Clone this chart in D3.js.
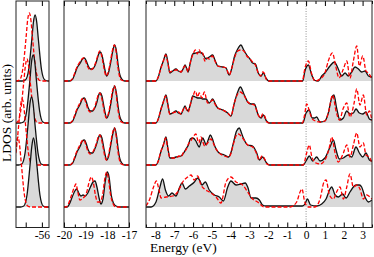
<!DOCTYPE html>
<meta charset="utf-8">
<style>
body{margin:0;background:#fff;}
svg{display:block;}
text{font-family:"Liberation Serif","DejaVu Serif",serif;fill:#000;}
.axis path{display:none;}
.axis line{stroke:#000;stroke-width:1px;}
.axis text{font-size:11.5px;}
.fill{fill:#d9d9d9;stroke:none;}
.black{fill:none;stroke:#111;stroke-width:1.3px;}
.red{fill:none;stroke:#f00;stroke-width:1.3px;stroke-dasharray:4,2;}
</style>
<body>
<script src="https://d3js.org/d3.v7.min.js"></script>
<script>
// energy windows of the three panels
var deepDomain = [-56.8, -55.78],
    midDomain  = [-20, -17],
    valDomain  = [-8.5, 3.5];

// tick values
var deepMajor = [-56],  deepMinor = [-56.5];
var midMajor  = [-20, -19, -18, -17], midMinor = [-19.5, -18.5, -17.5];
var valMajor  = [-8, -7, -6, -5, -4, -3, -2, -1, 0, 1, 2, 3];
var valMinor  = [-8.5, -7.5, -6.5, -5.5, -4.5, -3.5, -2.5, -1.5, -0.5, 0.5, 1.5, 2.5, 3.5];

// deep core level, one array per row: [energy, LDOS]
var deepBlack = [
  [[-57,0],[-56.61,0],[-56.51,1],[-56.41,11],[-56.31,42],[-56.26,59],[-56.21,66],[-56.16,59],[-56.11,42],[-56.01,11],[-55.91,1],[-55.81,0],[-55.5,0]],
  [[-57,0],[-56.67,0],[-56.57,1],[-56.47,12],[-56.37,43],[-56.32,61],[-56.27,68],[-56.22,61],[-56.17,43],[-56.07,12],[-55.97,1],[-55.87,0],[-55.5,0]],
  [[-57,0],[-56.72,0],[-56.62,1],[-56.52,12],[-56.42,43],[-56.37,61],[-56.32,68],[-56.27,61],[-56.22,43],[-56.12,12],[-56.02,1],[-55.92,0],[-55.5,0]],
  [[-57,0],[-56.66,0],[-56.56,1],[-56.46,12],[-56.36,44],[-56.31,61],[-56.26,69],[-56.21,61],[-56.16,44],[-56.06,12],[-55.96,1],[-55.86,0],[-55.5,0]]
];
var deepRed = [
  [[-57,0],[-56.79,0],[-56.69,1],[-56.59,12],[-56.49,43],[-56.44,61],[-56.39,68],[-56.34,61],[-56.29,43],[-56.19,12],[-56.09,1],[-55.99,0],[-55.5,0]],
  [[-57,0],[-56.86,0],[-56.76,1],[-56.66,11],[-56.56,41],[-56.51,57],[-56.46,64],[-56.41,57],[-56.36,41],[-56.26,11],[-56.16,1],[-56.06,0],[-55.5,0]],
  [[-57.1,0],[-57.01,0],[-56.91,1],[-56.81,11],[-56.71,42],[-56.66,59],[-56.61,66],[-56.56,59],[-56.51,42],[-56.41,11],[-56.31,1],[-56.21,0],[-55.5,0]],
  [[-57.2,0],[-57.14,0],[-57.04,1],[-56.94,12],[-56.84,45],[-56.79,62],[-56.74,70],[-56.69,62],[-56.64,45],[-56.54,12],[-56.44,1],[-56.34,0],[-55.5,0]]
];

// semicore states
var midBlack = [
  [[-20,0],[-19.75,0],[-19.6,2],[-19.5,7],[-19.4,13],[-19.25,18],[-19.15,22],[-19.06,23],[-18.97,20],[-18.88,15],[-18.78,12],[-18.68,12],[-18.58,15],[-18.48,21],[-18.4,27],[-18.33,29],[-18.25,26],[-18.17,18],[-18.1,10],[-18.03,5],[-17.95,8],[-17.85,18],[-17.75,30],[-17.66,36],[-17.58,30],[-17.5,16],[-17.42,6],[-17.33,2],[-17.2,0],[-17,0]],
  [[-20,0],[-19.75,0],[-19.6,2],[-19.5,7],[-19.4,13],[-19.25,19],[-19.15,24],[-19.06,25],[-18.97,21],[-18.88,15],[-18.78,12],[-18.68,12],[-18.58,15],[-18.48,21],[-18.4,28],[-18.33,30],[-18.25,27],[-18.17,18],[-18.1,10],[-18.03,5],[-17.95,8],[-17.85,18],[-17.75,31],[-17.66,37],[-17.58,30],[-17.5,16],[-17.42,6],[-17.33,2],[-17.2,0],[-17,0]],
  [[-20,0],[-19.75,0],[-19.6,2],[-19.5,7],[-19.4,13],[-19.25,19],[-19.15,24],[-19.06,25],[-18.97,21],[-18.88,15],[-18.78,12],[-18.68,12],[-18.58,16],[-18.48,22],[-18.4,28],[-18.33,30],[-18.25,27],[-18.17,18],[-18.1,10],[-18.03,5],[-17.95,8],[-17.85,19],[-17.75,31],[-17.66,37],[-17.58,30],[-17.5,16],[-17.42,6],[-17.33,2],[-17.2,0],[-17,0]],
  [[-20,0],[-19.85,0],[-19.75,3],[-19.62,10],[-19.5,16],[-19.41,18],[-19.32,14],[-19.22,11],[-19.12,12],[-19.02,11],[-18.9,14],[-18.78,20],[-18.66,25],[-18.57,26],[-18.48,20],[-18.38,9],[-18.3,3],[-18.2,8],[-18.1,25],[-18.0,35],[-17.92,30],[-17.82,12],[-17.72,4],[-17.6,1],[-17.4,0],[-17,0]]
];
var midRed = [
  [[-20,0],[-19.75,0],[-19.62,2],[-19.52,7],[-19.42,13],[-19.27,19],[-19.17,22],[-19.08,23],[-18.99,19],[-18.9,14],[-18.8,11],[-18.7,12],[-18.6,15],[-18.5,21],[-18.42,27],[-18.35,30],[-18.27,26],[-18.19,17],[-18.12,9],[-18.05,5],[-17.97,8],[-17.87,18],[-17.77,30],[-17.68,36],[-17.6,30],[-17.52,15],[-17.44,5],[-17.35,1],[-17.2,0],[-17,0]],
  [[-20,0],[-19.75,0],[-19.62,2],[-19.52,7],[-19.42,13],[-19.27,20],[-19.17,24],[-19.08,25],[-18.99,20],[-18.9,14],[-18.8,11],[-18.7,12],[-18.6,15],[-18.5,22],[-18.42,28],[-18.35,30],[-18.27,26],[-18.19,17],[-18.12,9],[-18.05,5],[-17.97,8],[-17.87,18],[-17.77,31],[-17.68,37],[-17.6,30],[-17.52,15],[-17.44,5],[-17.35,1],[-17.2,0],[-17,0]],
  [[-20,0],[-19.75,0],[-19.62,2],[-19.52,7],[-19.42,13],[-19.27,20],[-19.17,24],[-19.08,25],[-18.99,20],[-18.9,14],[-18.8,11],[-18.7,12],[-18.6,16],[-18.5,22],[-18.42,28],[-18.35,30],[-18.27,26],[-18.19,17],[-18.12,9],[-18.05,5],[-17.97,8],[-17.87,19],[-17.77,31],[-17.68,37],[-17.6,30],[-17.52,15],[-17.44,5],[-17.35,1],[-17.2,0],[-17,0]],
  [[-20,0],[-19.9,0],[-19.8,3],[-19.65,12],[-19.52,20],[-19.45,23],[-19.37,16],[-19.27,7],[-19.17,8],[-19.07,10],[-18.95,15],[-18.85,24],[-18.74,30],[-18.65,25],[-18.55,12],[-18.45,5],[-18.35,5],[-18.22,12],[-18.12,28],[-18.03,35],[-17.95,28],[-17.85,12],[-17.75,4],[-17.6,0],[-17,0]]
];

// valence and conduction band region
var valBlack = [
  [[-8.5,0],[-7.97,0],[-7.83,5],[-7.7,14],[-7.58,20],[-7.44,27],[-7.33,18],[-7.23,8],[-7.08,10],[-6.91,12],[-6.78,10],[-6.64,9],[-6.53,12],[-6.43,16],[-6.35,13],[-6.27,9],[-6.15,18],[-6.02,27],[-5.85,28],[-5.67,29],[-5.49,27],[-5.31,22],[-5.14,24],[-4.96,26],[-4.84,21],[-4.69,15],[-4.43,14],[-4.25,13],[-4.08,6],[-3.93,14],[-3.81,24],[-3.63,32],[-3.46,36],[-3.31,31],[-3.15,26],[-2.98,22],[-2.84,18],[-2.69,17],[-2.54,8],[-2.39,5],[-2.27,8],[-2.13,3],[-1.99,0],[-0.18,0],[-0.06,10],[0.12,16],[0.3,6],[0.47,0.5],[0.65,0],[0.83,5],[1.0,8],[1.27,15],[1.5,19],[1.71,12],[1.89,5],[2.07,8],[2.24,5],[2.42,9],[2.6,14],[2.78,12],[2.95,9],[3.13,10],[3.31,5],[3.5,4]],
  [[-8.5,0],[-7.97,0],[-7.83,5],[-7.7,14],[-7.58,21],[-7.44,28],[-7.33,18],[-7.23,9],[-7.08,10],[-6.91,12],[-6.78,10],[-6.64,9],[-6.53,13],[-6.43,17],[-6.35,14],[-6.27,12],[-6.15,18],[-6.02,27],[-5.88,26],[-5.76,25],[-5.62,25],[-5.49,24],[-5.31,24],[-5.14,20],[-4.96,24],[-4.84,20],[-4.69,15],[-4.43,13],[-4.16,10],[-3.99,7],[-3.81,20],[-3.63,31],[-3.49,36],[-3.28,28],[-3.1,21],[-2.92,19],[-2.75,19],[-2.54,8],[-2.39,5],[-2.27,8],[-2.1,2],[-1.95,0],[-0.18,0],[0.0,10],[0.16,13],[0.33,5],[0.45,5],[0.56,6],[0.74,1],[1.0,2],[1.18,10],[1.36,25],[1.48,28],[1.62,15],[1.8,3],[1.98,5],[2.16,12],[2.33,9],[2.51,10],[2.65,14],[2.83,10],[3.01,9],[3.18,11],[3.36,4],[3.5,3]],
  [[-8.5,0],[-7.97,0],[-7.83,5],[-7.7,14],[-7.58,20],[-7.44,28],[-7.33,16],[-7.23,7],[-7.08,7],[-6.91,8],[-6.64,9],[-6.5,12],[-6.38,16],[-6.25,20],[-6.15,26],[-6.02,27],[-5.85,24],[-5.75,20],[-5.67,18],[-5.58,23],[-5.49,27],[-5.4,24],[-5.31,20],[-5.2,25],[-5.08,30],[-4.97,26],[-4.87,20],[-4.61,12],[-4.34,10],[-4.11,8],[-3.98,13],[-3.86,22],[-3.69,34],[-3.54,37],[-3.43,32],[-3.33,27],[-3.1,20],[-2.84,19],[-2.62,12],[-2.48,5],[-2.31,8],[-2.09,2],[-1.95,0],[-0.15,0],[0.0,4],[0.17,9],[0.35,4],[0.56,8],[0.74,4],[1.0,7],[1.27,18],[1.45,25],[1.59,15],[1.77,6],[1.98,7],[2.24,10],[2.42,8],[2.65,18],[2.83,12],[3.01,8],[3.18,12],[3.36,5],[3.5,4]],
  [[-8.5,0],[-8.23,0],[-7.97,5],[-7.76,20],[-7.62,28],[-7.47,17],[-7.3,11],[-7.12,14],[-6.91,11],[-6.73,19],[-6.59,24],[-6.41,18],[-6.2,21],[-5.93,25],[-5.76,29],[-5.63,26],[-5.53,22],[-5.35,25],[-5.14,17],[-4.87,12],[-4.61,10],[-4.39,6],[-4.16,20],[-3.99,26],[-3.72,22],[-3.46,23],[-3.23,24],[-3.1,20],[-2.92,9],[-2.66,9],[-2.48,7],[-2.31,2],[-2.13,1],[-1.5,1],[-0.5,1],[-0.2,1],[-0.06,3],[0.07,8],[0.24,2],[0.56,1],[0.83,3],[1.06,8],[1.27,18],[1.36,20],[1.54,12],[1.71,10],[1.94,13],[2.12,9],[2.33,15],[2.51,20],[2.65,22],[2.83,22],[2.95,20],[3.13,10],[3.31,5],[3.5,7]]
];
var valRed = [
  [[-8.5,0],[-7.97,0],[-7.85,4],[-7.72,12],[-7.58,20],[-7.46,26],[-7.35,19],[-7.24,9],[-7.1,10],[-6.93,11],[-6.78,11],[-6.64,9],[-6.52,13],[-6.43,15],[-6.33,12],[-6.26,9],[-6.14,19],[-6.0,27],[-5.88,31],[-5.78,27],[-5.67,31],[-5.58,27],[-5.49,28],[-5.38,20],[-5.28,23],[-5.14,22],[-4.98,25],[-4.84,20],[-4.69,15],[-4.43,14],[-4.25,13],[-4.08,6],[-3.93,14],[-3.8,23],[-3.63,30],[-3.46,31],[-3.31,30],[-3.15,25],[-2.98,22],[-2.84,19],[-2.69,16],[-2.54,8],[-2.42,5],[-2.3,9],[-2.2,7],[-2.1,1],[-1.99,0],[-0.2,0],[-0.06,13],[0.12,20],[0.3,7],[0.47,0],[0.74,2],[1.0,8],[1.18,20],[1.4,28],[1.57,15],[1.75,3],[1.98,12],[2.16,20],[2.33,3],[2.51,20],[2.69,35],[2.83,15],[3.01,25],[3.18,10],[3.31,8],[3.5,2]],
  [[-8.5,0],[-7.97,0],[-7.85,4],[-7.72,13],[-7.58,21],[-7.46,27],[-7.35,19],[-7.24,9],[-7.1,10],[-6.93,11],[-6.78,11],[-6.64,9],[-6.52,14],[-6.43,16],[-6.33,13],[-6.26,11],[-6.14,19],[-6.0,27],[-5.88,32],[-5.76,26],[-5.67,30],[-5.53,25],[-5.4,31],[-5.23,20],[-5.1,21],[-4.96,23],[-4.84,19],[-4.69,15],[-4.43,13],[-4.16,10],[-3.99,7],[-3.81,20],[-3.63,29],[-3.49,31],[-3.28,27],[-3.1,21],[-2.92,19],[-2.75,18],[-2.54,8],[-2.42,5],[-2.3,9],[-2.2,7],[-2.08,1],[-1.95,0],[-0.2,0],[-0.08,8],[0.03,19],[0.24,8],[0.39,3],[0.74,1],[1.0,2],[1.18,10],[1.41,28],[1.59,12],[1.77,3],[1.98,15],[2.16,20],[2.33,6],[2.55,20],[2.69,34],[2.86,18],[3.04,28],[3.22,8],[3.36,12],[3.5,2]],
  [[-8.5,0],[-7.97,0],[-7.85,4],[-7.72,13],[-7.58,20],[-7.46,27],[-7.35,17],[-7.24,8],[-7.1,7],[-6.91,7],[-6.75,9],[-6.64,8],[-6.5,13],[-6.38,15],[-6.25,21],[-6.12,24],[-6.0,28],[-5.85,31],[-5.77,26],[-5.7,22],[-5.58,28],[-5.48,23],[-5.38,19],[-5.23,22],[-5.05,26],[-4.93,22],[-4.84,18],[-4.61,12],[-4.34,9],[-4.11,8],[-3.98,12],[-3.86,21],[-3.72,29],[-3.6,31],[-3.5,30],[-3.33,26],[-3.1,20],[-2.84,18],[-2.62,11],[-2.5,5],[-2.33,9],[-2.2,6],[-2.08,1],[-1.95,0],[-0.15,0],[0.03,12],[0.17,20],[0.31,8],[0.53,2],[0.74,1],[1.0,5],[1.24,18],[1.36,28],[1.54,12],[1.71,3],[1.98,12],[2.16,20],[2.33,8],[2.51,20],[2.69,32],[2.86,18],[3.04,22],[3.18,10],[3.36,8],[3.5,2]],
  [[-8.5,1],[-8.3,8],[-8.1,20],[-7.95,26],[-7.82,18],[-7.7,9],[-7.44,10],[-7.08,11],[-6.82,15],[-6.55,25],[-6.29,30],[-6.11,32],[-5.93,27],[-5.76,31],[-5.58,22],[-5.4,18],[-5.14,15],[-4.78,10],[-4.52,4],[-4.25,25],[-3.99,30],[-3.72,25],[-3.37,22],[-3.1,15],[-2.84,8],[-2.57,5],[-2.39,2],[-2.22,0],[-0.85,0],[-0.5,5],[-0.32,15],[-0.22,18],[-0.07,5],[0.12,0],[0.47,0],[0.74,8],[0.95,25],[1.06,27],[1.24,12],[1.45,8],[1.62,15],[1.8,20],[1.98,8],[2.16,20],[2.33,33],[2.51,20],[2.72,22],[2.86,18],[3.04,8],[3.22,12],[3.39,10],[3.5,8]]
];

var W = 374, H = 257,
    plotTop = 1, plotBottom = 227.5;

var svg = d3.select("body").append("svg")
    .attr("width", W)
    .attr("height", H);

// baseline of each row
var rowBase = d3.scaleLinear().domain([0, 3]).range([81, 207]);

var panels = [
  {id: "deep", x0: 16,  x1: 49,  domain: deepDomain, black: deepBlack, red: deepRed, major: deepMajor, minor: deepMinor, minorLen: 5},
  {id: "mid",  x0: 64,  x1: 129, domain: midDomain,  black: midBlack,  red: midRed,  major: midMajor,  minor: midMinor,  minorLen: 3},
  {id: "val",  x0: 146, x1: 372, domain: valDomain,  black: valBlack,  red: valRed,  major: valMajor,  minor: valMinor,  minorLen: 3}
];

var defs = svg.append("defs");

panels.forEach(function(p) {
  var x = d3.scaleLinear().domain(p.domain).range([p.x0, p.x1]);

  defs.append("clipPath").attr("id", "clip-" + p.id)
    .append("rect")
      .attr("x", p.x0).attr("y", plotTop)
      .attr("width", p.x1 - p.x0).attr("height", plotBottom - plotTop);

  var g = svg.append("g").attr("clip-path", "url(#clip-" + p.id + ")");

  // zero of energy
  if (p.id == "val") {
    g.append("line")
      .attr("x1", x(0)).attr("x2", x(0))
      .attr("y1", plotTop).attr("y2", plotBottom)
      .style("stroke", "#777")
      .style("stroke-width", "0.8px")
      .style("stroke-dasharray", "1,1.5");
  }

  p.black.forEach(function(rowB, i) {
    var y = d3.scaleLinear().domain([0, 40]).range([rowBase(i), rowBase(i) - 40]);

    var area = d3.area()
        .x(function(d) { return x(d[0]); })
        .y0(y(0))
        .y1(function(d) { return y(d[1]); })
        .curve(d3.curveMonotoneX);
    var line = d3.line()
        .x(function(d) { return x(d[0]); })
        .y(function(d) { return y(d[1]); })
        .curve(d3.curveMonotoneX);

    g.append("path").datum(rowB).attr("class", "fill").attr("d", area);
    g.append("path").datum(rowB).attr("class", "black").attr("d", line);
    g.append("path").datum(p.red[i]).attr("class", "red").attr("d", line);
  });

  // ticks, pointing inwards, on top and bottom
  var fmt = function(d) { return String(d); };
  svg.append("g").attr("class", "axis")
      .attr("transform", "translate(0," + plotBottom + ")")
      .call(d3.axisBottom(x).tickValues(p.major).tickSize(-5).tickPadding(3).tickFormat(fmt));
  svg.append("g").attr("class", "axis")
      .attr("transform", "translate(0," + plotBottom + ")")
      .call(d3.axisBottom(x).tickValues(p.minor).tickSize(-p.minorLen).tickFormat(""));
  svg.append("g").attr("class", "axis")
      .attr("transform", "translate(0," + plotTop + ")")
      .call(d3.axisTop(x).tickValues(p.major).tickSize(-5).tickFormat(""));
  svg.append("g").attr("class", "axis")
      .attr("transform", "translate(0," + plotTop + ")")
      .call(d3.axisTop(x).tickValues(p.minor).tickSize(-p.minorLen).tickFormat(""));

  // frame
  svg.append("rect")
      .attr("x", p.x0).attr("y", plotTop)
      .attr("width", p.x1 - p.x0).attr("height", plotBottom - plotTop)
      .style("fill", "none")
      .style("stroke", "#222")
      .style("stroke-width", "1px");
});

svg.append("text")
    .attr("x", 150)
    .attr("y", 252)
    .style("font-size", "13.5px")
    .text("Energy (eV)");

svg.append("text")
    .attr("transform", "translate(11,113) rotate(-90)")
    .attr("text-anchor", "middle")
    .style("font-size", "13.5px")
    .text("LDOS (arb. units)");
</script>
</body>
